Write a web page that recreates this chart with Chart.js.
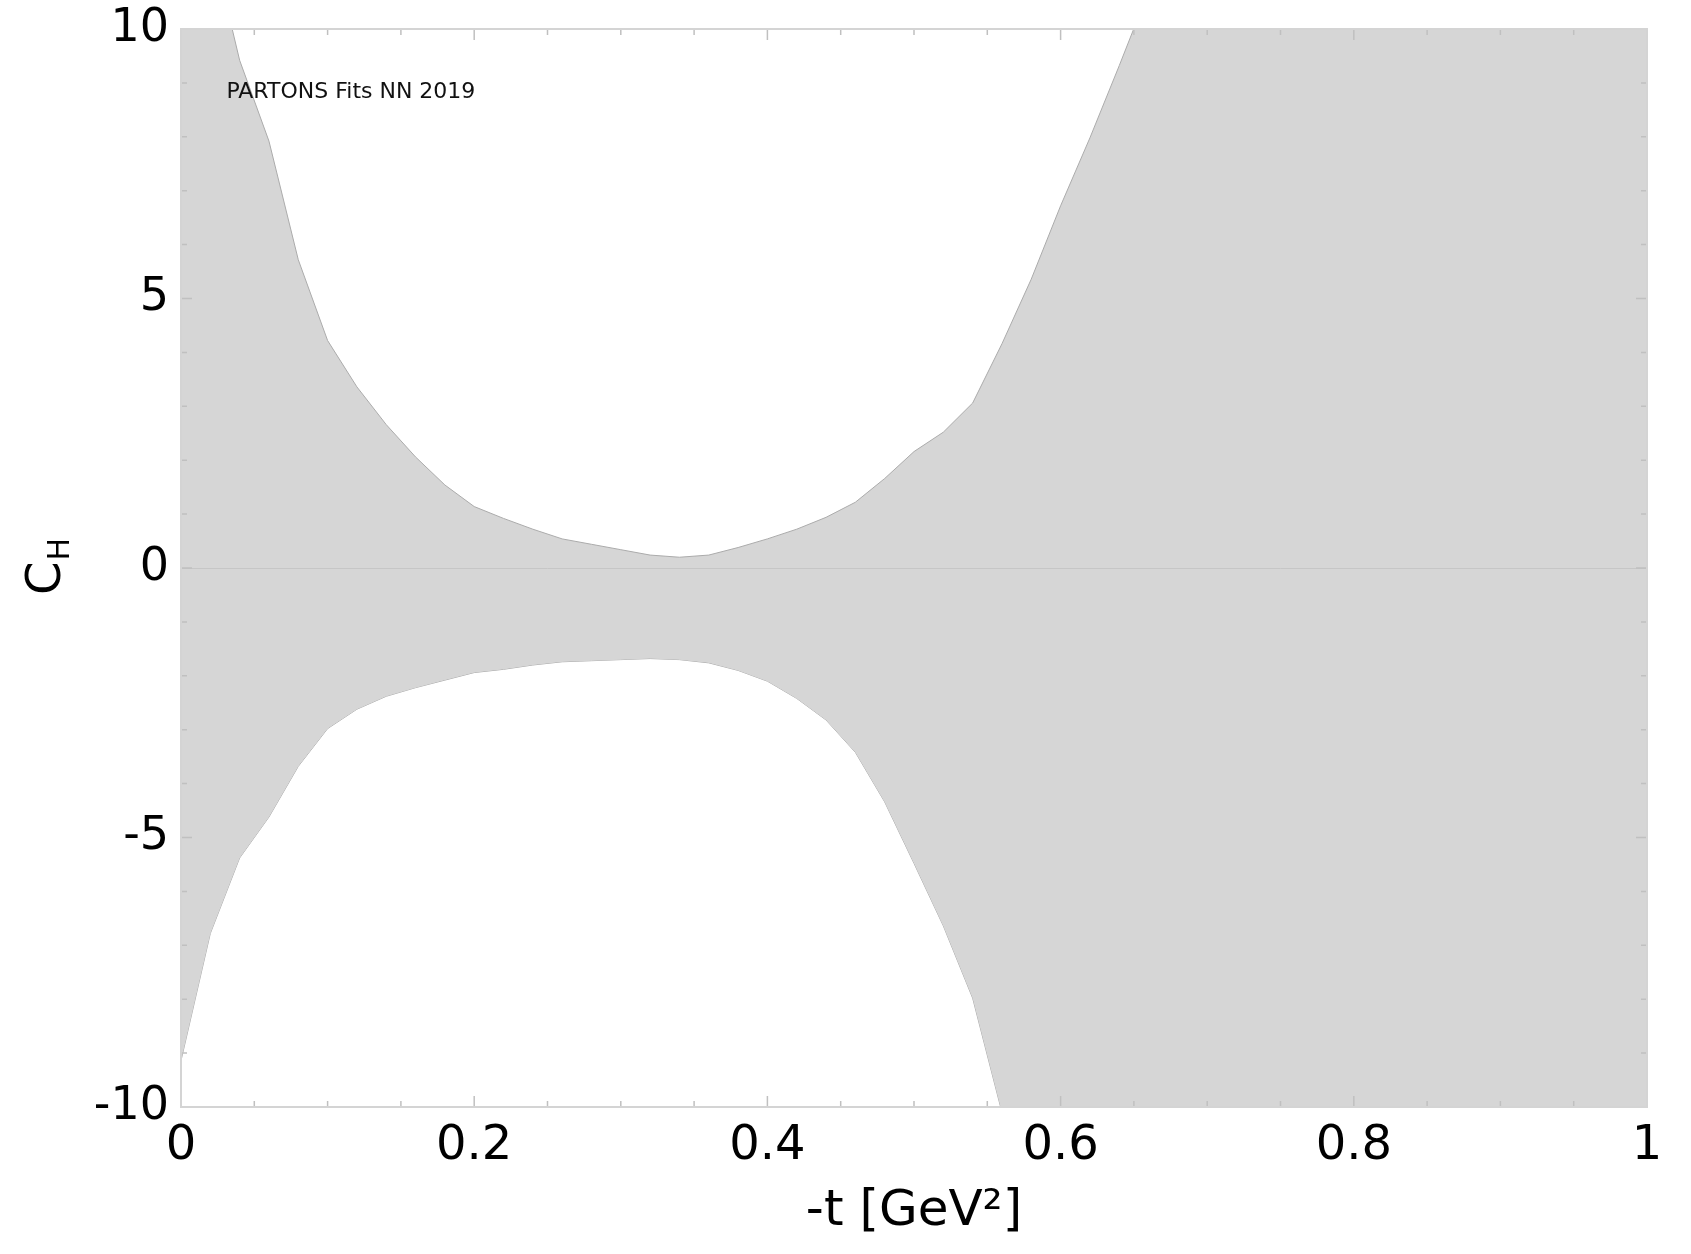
<!DOCTYPE html>
<html>
<head>
<meta charset="utf-8">
<script src="https://cdn.jsdelivr.net/npm/chart.js@4/dist/chart.umd.min.js"></script>
<style>
    body { margin: 0; background: #fff; }
    #wrap { width: 1691px; height: 1254px; }
</style>
</head>
<body>
<div id="wrap"><canvas id="chChart"></canvas></div>
<script>
// -t values (GeV^2)
const tValues = [
    0.00, 0.02, 0.04, 0.06, 0.08, 0.10, 0.12, 0.14, 0.16, 0.18,
    0.20, 0.22, 0.24, 0.26, 0.28, 0.30, 0.32, 0.34, 0.36, 0.38,
    0.40, 0.42, 0.44, 0.46, 0.48, 0.50, 0.52, 0.54, 0.56, 0.58,
    0.60, 0.62, 0.64, 0.66, 0.68, 0.70, 0.72, 0.74, 0.76, 0.78,
    0.80, 0.82, 0.84, 0.86, 0.88, 0.90, 0.92, 0.94, 0.96, 0.98, 1.00
];

// upper edge of the band
const upperBand = [
    14.0, 11.7, 9.42, 7.92, 5.72, 4.22, 3.36, 2.66, 2.06, 1.54,
    1.14, 0.92, 0.72, 0.54, 0.44, 0.34, 0.24, 0.20, 0.24, 0.38,
    0.54, 0.72, 0.94, 1.22, 1.66, 2.16, 2.52, 3.06, 4.16, 5.36,
    6.72, 7.98, 9.32, 10.7, 12.0, 13.4, 14.8, 16.3, 17.8, 19.4,
    21.0, 22.7, 24.4, 26.2, 28.0, 29.9, 31.8, 33.8, 35.8, 37.9, 40.0
];

// lower edge of the band
const lowerBand = [
    -9.14, -6.78, -5.38, -4.62, -3.68, -2.98, -2.62, -2.38, -2.22, -2.08,
    -1.94, -1.88, -1.80, -1.74, -1.72, -1.70, -1.68, -1.70, -1.76, -1.90,
    -2.10, -2.42, -2.82, -3.42, -4.34, -5.48, -6.64, -7.98, -10.1, -12.4,
    -14.8, -17.2, -19.7, -22.2, -24.8, -27.4, -30.0, -32.7, -35.4, -38.1,
    -40.8, -43.6, -46.4, -49.2, -52.0, -54.9, -57.8, -60.7, -63.6, -66.6, -69.6
];

const xTicks = [0, 0.2, 0.4, 0.6, 0.8, 1];
const yTicks = [-10, -5, 0, 5, 10];

const upperPts = tValues.map((t, i) => ({ x: t, y: upperBand[i] }));
const lowerPts = tValues.map((t, i) => ({ x: t, y: lowerBand[i] }));

const FONT = 'DejaVu Sans';
const BAND = '#d6d6d6';
const EDGE = '#ababab';
const FRAME = '#d4d4d4';

// frame, inward ticks, zero line, label and y title
const decorPlugin = {
    id: 'decor',
    afterDatasetsDraw(chart) {
        const { ctx, chartArea: a, scales } = chart;
        const xs = scales.x, ys = scales.y;
        ctx.save();
        // zero line
        ctx.strokeStyle = '#c6c6c6';
        ctx.lineWidth = 1;
        ctx.beginPath();
        ctx.moveTo(a.left, Math.round(ys.getPixelForValue(0)) + 0.5);
        ctx.lineTo(a.right, Math.round(ys.getPixelForValue(0)) + 0.5);
        ctx.stroke();

        ctx.strokeStyle = '#c0c0c0';
        ctx.lineWidth = 1.5;
        ctx.beginPath();
        for (let k = 0; k <= 20; k++) {
            const v = k * 0.05;
            const px = xs.getPixelForValue(v);
            const len = (k % 4 === 0) ? 11 : 6;
            ctx.moveTo(px, a.bottom); ctx.lineTo(px, a.bottom - len);
            ctx.moveTo(px, a.top); ctx.lineTo(px, a.top + len);
        }
        for (let v = -10; v <= 10; v++) {
            const py = ys.getPixelForValue(v);
            const len = (v % 5 === 0) ? 11 : 6;
            ctx.moveTo(a.left, py); ctx.lineTo(a.left + len, py);
            ctx.moveTo(a.right, py); ctx.lineTo(a.right - len, py);
        }
        ctx.stroke();

        // frame
        ctx.strokeStyle = FRAME;
        ctx.lineWidth = 2;
        ctx.strokeRect(a.left, a.top, a.right - a.left, a.bottom - a.top);

        // label
        ctx.fillStyle = '#111';
        ctx.font = '22px ' + FONT;
        ctx.textAlign = 'left';
        ctx.textBaseline = 'middle';
        ctx.fillText('PARTONS Fits NN 2019', xs.getPixelForValue(0.031), ys.getPixelForValue(8.82));
        ctx.restore();
    },
    afterDraw(chart) {
        const { ctx } = chart;
        ctx.save();
        ctx.translate(43, 567);
        ctx.rotate(-Math.PI / 2);
        ctx.fillStyle = '#000';
        ctx.textBaseline = 'alphabetic';
        ctx.textAlign = 'left';
        ctx.font = '48px ' + FONT;
        const wC = ctx.measureText('C').width;
        ctx.font = '30px ' + FONT;
        const wH = ctx.measureText('H').width;
        const start = -(wC + wH) / 2;
        ctx.font = '48px ' + FONT;
        ctx.fillText('C', start, 17);
        ctx.font = '30px ' + FONT;
        ctx.fillText('H', start + wC + 1, 26);
        ctx.restore();
    }
};

const ctx = document.getElementById('chChart').getContext('2d');
const chChart = new Chart(ctx, {
    type: 'line',
    data: {
        datasets: [
            {
                label: 'upper',
                data: upperPts,
                borderColor: EDGE,
                borderWidth: 1,
                backgroundColor: BAND,
                pointRadius: 0,
                fill: '+1',
                tension: 0,
                clip: 0
            },
            {
                label: 'lower',
                data: lowerPts,
                borderColor: EDGE,
                borderWidth: 1,
                backgroundColor: BAND,
                pointRadius: 0,
                fill: false,
                tension: 0,
                clip: 0
            }
        ]
    },
    options: {
        responsive: true,
        maintainAspectRatio: false,
        animation: false,
        layout: { padding: { left: 0, top: 29, right: 44, bottom: 0 } },
        plugins: {
            legend: { display: false },
            tooltip: { enabled: false }
        },
        scales: {
            x: {
                type: 'linear',
                min: 0,
                max: 1,
                afterBuildTicks: s => { s.ticks = xTicks.map(v => ({ value: v })); },
                afterFit: s => { s.height = 147; },
                grid: { display: false, drawTicks: false },
                border: { display: false },
                ticks: {
                    color: '#000',
                    padding: 11,
                    maxRotation: 0,
                    font: { family: FONT, size: 48 },
                    callback: v => String(v)
                },
                title: {
                    display: true,
                    text: '-t [GeV²]',
                    color: '#000',
                    font: { family: FONT, size: 50 },
                    padding: { top: 0, bottom: 12 }
                }
            },
            y: {
                type: 'linear',
                min: -10,
                max: 10,
                afterBuildTicks: s => { s.ticks = yTicks.map(v => ({ value: v })); },
                afterFit: s => { s.width = 181; },
                grid: { display: false, drawTicks: false },
                border: { display: false },
                ticks: {
                    color: '#000',
                    padding: 12,
                    font: { family: FONT, size: 46, lineHeight: 0.7 },
                    callback: v => String(v)
                }
            }
        }
    },
    plugins: [decorPlugin]
});
</script>
</body>
</html>
